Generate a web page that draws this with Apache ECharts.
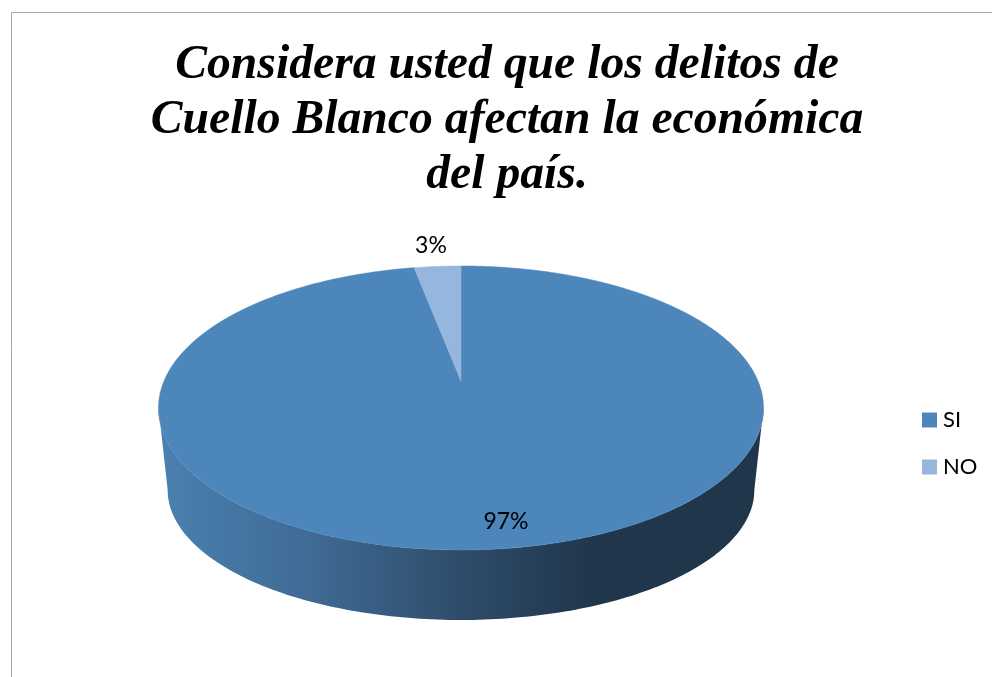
<!DOCTYPE html>
<html><head><meta charset="utf-8">
<style>html,body{margin:0;padding:0;background:#fff}#c{width:992px;height:677px}</style>
<script src="https://cdn.jsdelivr.net/npm/echarts@6/dist/echarts.min.js"></script>
</head><body><div id="c"></div>
<script>
const titleText = 'Considera usted que los delitos de\nCuello Blanco afectan la económica\ndel país.';
const categories = ['SI', 'NO'];
const values = [97, 3];
const colors = ['#4d86bb', '#95b6dd'];
const labelPos = [[506, 522], [431, 246]];

// Perspective projection of the tilted disc (rim = top face, base = lower edge)
const K = 0.19, CX = 461;
const rim = {a: 297, b: 136.9, y0: 381};
const base = {a: 288, b: 125.3, y0: 465.3};
function project(p, theta) {
  const u = Math.sin(theta), v = -Math.cos(theta), d = 1 - K * v;
  return [CX + p.a * u / d, p.y0 + p.b * v / d];
}
const total = values.reduce((a, b) => a + b, 0);
function arc(p, from, to) {
  const n = Math.max(8, Math.ceil(Math.abs(to - from) * 60)), pts = [];
  for (let i = 0; i <= n; i++) pts.push(project(p, from + (to - from) * i / n));
  return pts;
}
const sideGradient = {
  type: 'linear', x: 159, y: 0, x2: 763, y2: 0, global: true,
  colorStops: [
    {offset: 0, color: '#4b80b0'}, {offset: 0.25, color: '#3f6b95'},
    {offset: 0.5, color: '#2e4c6a'}, {offset: 0.72, color: '#20364b'},
    {offset: 1, color: '#20364b'}
  ]
};
function renderSlice(idx) {
  return function (params, api) {
    const before = values.slice(0, idx).reduce((a, b) => a + b, 0);
    const start = before / total * Math.PI * 2;
    const end = (before + api.value(0)) / total * Math.PI * 2;
    const children = [];
    // visible side wall: front part of the slice, between the two silhouette points
    const sideFrom = Math.max(start, Math.PI / 2 + 0.19);
    const sideTo = Math.min(end, Math.PI * 1.5 - 0.19);
    if (sideTo > sideFrom) {
      children.push({
        type: 'polygon',
        shape: {points: arc(rim, sideFrom, sideTo).concat(arc(base, sideTo, sideFrom))},
        style: {fill: sideGradient, stroke: null}
      });
    }
    children.push({
      type: 'polygon',
      shape: {points: [[CX, rim.y0]].concat(arc(rim, start, end))},
      style: {fill: colors[idx], stroke: colors[idx], lineWidth: 0.5}
    });
    children.push({
      type: 'text',
      style: {
        x: labelPos[idx][0], y: labelPos[idx][1],
        text: api.value(0) + '%', fill: '#000',
        font: '23px Lato', align: 'center', verticalAlign: 'middle'
      },
      z2: 10
    });
    return {type: 'group', children};
  };
}
const chart = echarts.init(document.getElementById('c'), null, {renderer: 'canvas'});
chart.setOption({
  animation: false,
  backgroundColor: '#fff',
  title: {
    text: titleText, left: 502, top: 33, textAlign: 'center',
    textStyle: {fontFamily: 'Liberation Serif', fontStyle: 'italic', fontWeight: 'bold',
      fontSize: 47.7, lineHeight: 55, color: '#000'}
  },
  legend: {
    orient: 'vertical', left: 917, top: 404, itemWidth: 15, itemHeight: 15, itemGap: 25,
    icon: 'rect', data: categories,
    textStyle: {fontFamily: 'Lato', fontSize: 22, color: '#000', padding: [0, 0, 0, 1]}
  },
  graphic: [{
    type: 'polyline', silent: true,
    shape: {points: [[11.5, 677], [11.5, 12.5], [992, 12.5]]},
    style: {stroke: '#a6a6a6', lineWidth: 1, fill: null}
  }],
  series: categories.map((name, i) => ({
    type: 'custom', name, coordinateSystem: 'none',
    itemStyle: {color: colors[i]},
    data: [[values[i]]],
    renderItem: renderSlice(i)
  }))
});
</script></body></html>
